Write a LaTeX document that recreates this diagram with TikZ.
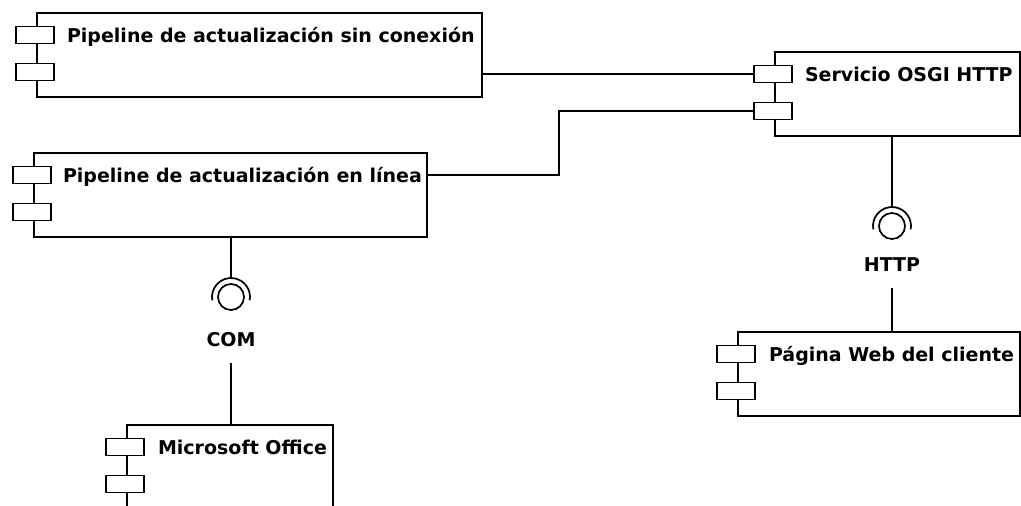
\documentclass[tikz,border=0pt]{standalone}
\usepackage{fontspec}
\setmainfont{DejaVu Sans}
\usetikzlibrary{calc,positioning}

\begin{document}
\begin{tikzpicture}[x=1pt,y=-1pt,
                        comp/.style={draw,line width=2pt,fill=white,anchor=north west,minimum height=84pt,inner sep=0pt},
                        compport/.style={draw,line width=1.7pt,fill=white,minimum width=38pt,minimum height=17pt,inner sep=0pt},
                        comptext/.style={anchor=base west,inner sep=0pt,font=\bfseries\fontsize{19}{23}\selectfont},
                        ifacelabel/.style={inner sep=16pt,font=\bfseries\fontsize{19}{23}\selectfont},
                        wire/.style={line width=1.7pt},
                        socket/.style={line width=1.7pt}
                        ]
                        \useasboundingbox (0,0) rectangle (1021,506);
                        % draw components
                        \node[comp,minimum width=445pt] (offline) at (36,12) {};
                        \node[comp,minimum width=393pt] (online) at (33,152) {};
                        \node[comp,minimum width=245pt] (osgi) at (774,51) {};
                        \node[comp,minimum width=282pt] (web) at (737,331) {};
                        \node[comp,minimum width=206pt,minimum height=92pt] (office) at (126,424) {};
                        \foreach \c in {offline,online,osgi,web,office}{
                            \node[compport] (\c-p1) at ($(\c.north west)+(-1,23)$) {};
                            \node[compport] (\c-p2) at ($(\c.north west)+(-1,60)$) {};
                        }
                        \node[comptext] (offline-t) at ($(offline-p1.east)+(12,7)$) {Pipeline de actualización sin conexión};
                        \node[comptext] (online-t) at ($(online-p1.east)+(11,7)$) {Pipeline de actualización en línea};
                        \node[comptext] (osgi-t) at ($(osgi-p1.east)+(12,7)$) {Servicio OSGI HTTP};
                        \node[comptext] (web-t) at ($(web-p1.east)+(13,7)$) {Página Web del cliente};
                        \node[comptext] (office-t) at ($(office-p1.east)+(13,7)$) {Microsoft Office};

                        % draw interfaces
                        \coordinate (http-sock) at (892,226);
                        \coordinate (http-top) at ($(http-sock)+(0,-19)$);
                        \draw[socket] (http-sock) circle (13pt);
                        \draw[socket] ($(http-sock)+(-10:19pt)$) arc (-10:190:19pt);
                        \node[ifacelabel] (http) at (892,265) {HTTP};

                        \coordinate (com-sock) at (231,297);
                        \coordinate (com-top) at ($(com-sock)+(0,-19)$);
                        \draw[socket] (com-sock) circle (13pt);
                        \draw[socket] ($(com-sock)+(-10:19pt)$) arc (-10:190:19pt);
                        \node[ifacelabel] (com) at (231,340) {COM};

                        % draw connectors
                        \draw[wire] (osgi-p1.west -| offline.east) -- (osgi-p1.west);
                        \draw[wire] (online-p1 -| online.east) -- ++(131,0) |- (osgi-p2.west);
                        \draw[wire] (osgi.south -| http-top) -- (http-top);
                        \draw[wire] (http.south) -- (http.south |- web.north);
                        \draw[wire] (online.south -| com-top) -- (com-top);
                        \draw[wire] (com.south) -- (com.south |- office.north);
                \end{tikzpicture}
\end{document}
